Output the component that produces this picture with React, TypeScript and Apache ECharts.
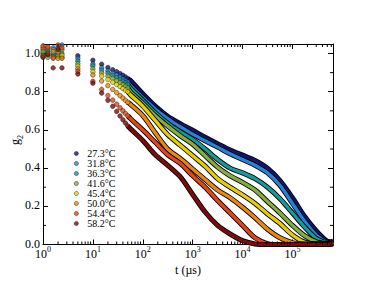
import React, { useEffect, useRef } from "react";
import * as echarts from "echarts";

// lag times (µs)
const TIMES_EARLY = [1, 1.25, 1.6, 2, 2.4, 5, 10, 15, 20, 25, 30, 35, 40, 45, 50];
const TIMES_LATE = [56.2, 100, 177.8, 316.2, 562.3, 1000, 1778, 3162, 5623, 10000, 17783, 31623, 56234, 100000, 177828, 316228, 562341, 650000];

const NAMES = ["27.3°C", "31.8°C", "36.3°C", "41.6°C", "45.4°C", "50.0°C", "54.4°C", "58.2°C"];
const COLORS = ["#14146e", "#2484d8", "#189a9a", "#86ad3c", "#e6cf00", "#e88a10", "#e4461a", "#7c0c0c"];

const G2_EARLY_273 = [1.0, 1.01, 0.99, 1.0, 0.98, 0.988, 0.965, 0.944, 0.927, 0.915, 0.905, 0.895, 0.886, 0.877, 0.869];
const G2_LATE_273 = [0.86, 0.79, 0.725, 0.672, 0.633, 0.598, 0.562, 0.528, 0.495, 0.468, 0.44, 0.4, 0.335, 0.245, 0.145, 0.066, 0.014, 0.018];
const G2_EARLY_318 = [1.02, 0.99, 1.03, 0.985, 1.045, 0.975, 0.945, 0.925, 0.91, 0.897, 0.887, 0.877, 0.868, 0.859, 0.851];
const G2_LATE_318 = [0.835, 0.77, 0.71, 0.66, 0.617, 0.578, 0.543, 0.51, 0.475, 0.445, 0.415, 0.375, 0.31, 0.215, 0.12, 0.045, 0.01, 0.012];
const G2_EARLY_363 = [0.99, 1.02, 1.0, 1.03, 1.0, 0.961, 0.935, 0.912, 0.897, 0.885, 0.874, 0.864, 0.855, 0.846, 0.838];
const G2_LATE_363 = [0.82, 0.755, 0.69, 0.635, 0.59, 0.55, 0.5, 0.445, 0.4, 0.375, 0.345, 0.3, 0.24, 0.165, 0.09, 0.028, 0.008, 0.012];
const G2_EARLY_416 = [1.01, 0.98, 1.02, 0.99, 1.02, 0.947, 0.92, 0.898, 0.882, 0.87, 0.858, 0.848, 0.838, 0.829, 0.82];
const G2_LATE_416 = [0.8, 0.74, 0.675, 0.62, 0.57, 0.525, 0.465, 0.405, 0.36, 0.325, 0.285, 0.225, 0.165, 0.1, 0.045, 0.012, 0.005, 0.01];
const G2_EARLY_454 = [0.985, 1.0, 0.98, 1.01, 0.99, 0.934, 0.905, 0.882, 0.864, 0.85, 0.838, 0.827, 0.817, 0.808, 0.8];
const G2_LATE_454 = [0.785, 0.725, 0.65, 0.575, 0.52, 0.465, 0.41, 0.345, 0.3, 0.26, 0.215, 0.16, 0.11, 0.05, 0.012, 0.003, 0.003, 0.008];
const G2_EARLY_500 = [1.03, 1.03, 1.01, 0.975, 0.975, 0.92, 0.888, 0.856, 0.832, 0.812, 0.795, 0.78, 0.767, 0.755, 0.745];
const G2_LATE_500 = [0.735, 0.675, 0.585, 0.5, 0.45, 0.395, 0.34, 0.285, 0.245, 0.195, 0.14, 0.08, 0.035, 0.01, 0.003, 0.002, 0.002, 0.005];
const G2_EARLY_544 = [1.04, 1.035, 0.975, 1.045, 1.03, 0.907, 0.855, 0.812, 0.78, 0.756, 0.735, 0.716, 0.7, 0.686, 0.674];
const G2_LATE_544 = [0.66, 0.6, 0.535, 0.47, 0.425, 0.36, 0.3, 0.23, 0.165, 0.1, 0.035, 0.005, 0, 0, 0, 0, 0.002, 0.004];
const G2_EARLY_582 = [0.98, 0.995, 0.925, 1.02, 0.925, 0.893, 0.845, 0.793, 0.755, 0.724, 0.697, 0.673, 0.653, 0.636, 0.621];
const G2_LATE_582 = [0.607, 0.545, 0.47, 0.415, 0.355, 0.262, 0.17, 0.1, 0.055, 0.02, 0.003, 0, 0, 0, 0, 0, 0.002, 0.004];

const EARLY = [G2_EARLY_273, G2_EARLY_318, G2_EARLY_363, G2_EARLY_416, G2_EARLY_454, G2_EARLY_500, G2_EARLY_544, G2_EARLY_582];
const LATE = [G2_LATE_273, G2_LATE_318, G2_LATE_363, G2_LATE_416, G2_LATE_454, G2_LATE_500, G2_LATE_544, G2_LATE_582];

const X_MIN = 1;
const X_MAX = 650000;
const Y_MIN = 0;
const Y_MAX = 1.05;
const Y_MINOR = [0.1, 0.3, 0.5, 0.7, 0.9];
const X_MINOR: number[] = [];
for (let e = 0; e <= 5; e++) {
  for (let m = 2; m <= 9; m++) {
    const v = m * Math.pow(10, e);
    if (v < X_MAX) X_MINOR.push(v);
  }
}

const FONT = "'Liberation Serif', 'DejaVu Serif', serif";

export default function App() {
  const ref = useRef<HTMLDivElement>(null);
  useEffect(() => {
    if (!ref.current) return;
    const chart = echarts.init(ref.current, null, { renderer: "svg" });
    const series: any[] = [];
    NAMES.forEach((name, i) => {
      const lineData = [[TIMES_EARLY[TIMES_EARLY.length - 1], EARLY[i][EARLY[i].length - 1]]].concat(
        TIMES_LATE.map((t, k) => [t, LATE[i][k]])
      );
      series.push({
        type: "line",
        name: name + " outline",
        data: lineData,
        symbol: "none",
        smooth: 0.3,
        lineStyle: { color: "#000", width: 5 },
        z: 2,
        silent: true,
      });
      series.push({
        type: "line",
        name: name + " band",
        data: lineData,
        symbol: "none",
        smooth: 0.3,
        lineStyle: { color: COLORS[i], width: 3.3 },
        z: 2,
        silent: true,
      });
    });
    NAMES.forEach((name, i) => {
      series.push({
        type: "scatter",
        name,
        data: TIMES_EARLY.map((t, k) => [t, EARLY[i][k]]),
        symbol: "circle",
        symbolSize: 4.6,
        itemStyle: { color: COLORS[i], borderColor: "#000", borderWidth: 0.5 },
        z: 4,
        silent: true,
      });
    });
    series.push({
      type: "custom",
      name: "xminor",
      data: X_MINOR.map((v) => [v, 0]),
      silent: true,
      z: 5,
      renderItem: (params: any, api: any) => {
        const t = api.value(0);
        const pb = api.coord([t, Y_MIN]);
        const pt = api.coord([t, Y_MAX]);
        return {
          type: "group",
          children: [
            { type: "line", shape: { x1: pb[0], y1: pb[1], x2: pb[0], y2: pb[1] - 3 }, style: { stroke: "#000", lineWidth: 1 } },
            { type: "line", shape: { x1: pt[0], y1: pt[1], x2: pt[0], y2: pt[1] + 3 }, style: { stroke: "#000", lineWidth: 1 } },
          ],
        };
      },
    });
    series.push({
      type: "custom",
      name: "yminor",
      data: Y_MINOR.map((v) => [X_MIN, v]),
      silent: true,
      z: 5,
      renderItem: (params: any, api: any) => {
        const v = api.value(1);
        const pl = api.coord([X_MIN, v]);
        const pr = api.coord([X_MAX, v]);
        return {
          type: "group",
          children: [
            { type: "line", shape: { x1: pl[0], y1: pl[1], x2: pl[0] + 3, y2: pl[1] }, style: { stroke: "#000", lineWidth: 1 } },
            { type: "line", shape: { x1: pr[0], y1: pr[1], x2: pr[0] - 3, y2: pr[1] }, style: { stroke: "#000", lineWidth: 1 } },
          ],
        };
      },
    });

    const axisLine = { show: true, onZero: false, lineStyle: { color: "#000", width: 1 } };
    const axisTick = { show: true, inside: true, length: 5, lineStyle: { color: "#000", width: 1 } };

    chart.setOption({
      animation: false,
      backgroundColor: "#fff",
      grid: { left: 43, right: 41, top: 44, bottom: 44.5 },
      xAxis: [
        {
          type: "log",
          logBase: 10,
          min: X_MIN,
          max: X_MAX,
          position: "bottom",
          axisLine,
          axisTick,
          splitLine: { show: false },
          axisLabel: {
            margin: 3,
            color: "#000",
            fontFamily: FONT,
            formatter: (v: number) => {
              const e = Math.round(Math.log10(v));
              if (Math.abs(v - Math.pow(10, e)) > 1e-6 * v) return "";
              return "{b|10}{s|" + e + "}";
            },
            rich: {
              b: { fontSize: 12, lineHeight: 12, verticalAlign: "bottom", fontFamily: FONT, color: "#000" },
              s: { fontSize: 8, lineHeight: 8, verticalAlign: "bottom", padding: [0, 0, 6, 0], fontFamily: FONT, color: "#000" },
            },
          },
        },
        {
          type: "log",
          logBase: 10,
          min: X_MIN,
          max: X_MAX,
          position: "top",
          axisLine,
          axisTick,
          splitLine: { show: false },
          axisLabel: { show: false },
        },
      ],
      yAxis: [
        {
          type: "value",
          min: Y_MIN,
          max: Y_MAX,
          interval: 0.2,
          position: "left",
          axisLine,
          axisTick,
          splitLine: { show: false },
          axisLabel: {
            margin: 3,
            color: "#000",
            fontFamily: FONT,
            fontSize: 12,
            verticalAlign: "bottom",
            lineHeight: 12,
            padding: [0, 0, -5, 0],
            formatter: (v: number) => (Math.abs(v * 5 - Math.round(v * 5)) < 1e-6 ? v.toFixed(1) : ""),
          },
        },
        {
          type: "value",
          min: Y_MIN,
          max: Y_MAX,
          interval: 0.2,
          position: "right",
          axisLine,
          axisTick,
          splitLine: { show: false },
          axisLabel: { show: false },
        },
      ],
      legend: {
        show: true,
        orient: "vertical",
        left: 69,
        top: 143.5,
        itemWidth: 12,
        itemHeight: 4.2,
        itemGap: 0,
        icon: "circle",
        data: NAMES,
        selectedMode: false,
        itemStyle: { borderWidth: 0.5, borderColor: "#000" },
        textStyle: { fontFamily: FONT, fontSize: 10, color: "#000", lineHeight: 10 },
      },
      graphic: [
        {
          type: "text",
          x: 188,
          y: 270,
          style: { text: "t (µs)", font: "12px " + FONT, fill: "#000", align: "center", verticalAlign: "middle" },
        },
        {
          type: "text",
          x: 15,
          y: 140,
          rotation: Math.PI / 2,
          style: {
            text: "{g|g}{s|2}",
            fill: "#000",
            align: "center",
            verticalAlign: "middle",
            rich: {
              g: { fontSize: 12, lineHeight: 12, verticalAlign: "top", fontFamily: FONT, color: "#000" },
              s: { fontSize: 8, lineHeight: 8, verticalAlign: "top", padding: [7, 0, 0, 0], fontFamily: FONT, color: "#000" },
            },
          },
        },
      ],
      series,
    });
    return () => chart.dispose();
  }, []);
  return (
    <div
      ref={ref}
      style={{ position: "fixed", left: 0, top: 0, width: 374, height: 289, background: "#fff" }}
    />
  );
}
